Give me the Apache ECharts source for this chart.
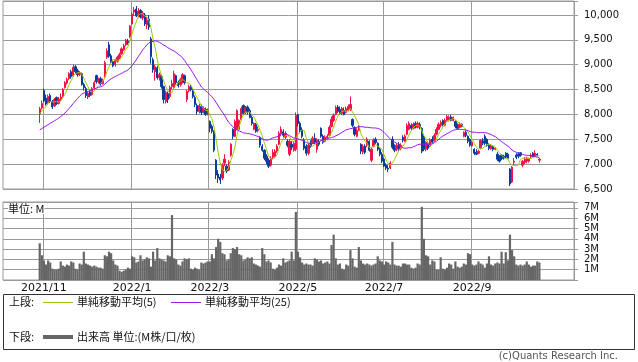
<!DOCTYPE html>
<html><head><meta charset="utf-8">
<script src="https://cdn.jsdelivr.net/npm/echarts/dist/echarts.min.js"></script>
<style>html,body{margin:0;padding:0;background:#fff}#c{width:638px;height:362px}</style>
</head><body><div id="c"></div><script>
// ---- data ----
const startDate = '2021-10-28';
const endDate = '2022-10-20';
const holidays = ['2021-11-03','2021-11-23','2021-12-31','2022-01-03','2022-01-10','2022-02-11','2022-02-23','2022-03-21','2022-04-29','2022-05-03','2022-05-04','2022-05-05','2022-07-18','2022-08-11','2022-09-19','2022-09-23','2022-10-10'];
const labelMonths = [11,1,3,5,7,9];
const padBefore = 17, padAfter = 16;
const priceTicks = [6500,7000,7500,8000,8500,9000,9500,10000];
const volTicks = [1,2,3,4,5,6,7];

// closes before the first visible day (only feed the moving averages)
const priorClose = [7580,7540,7620,7660,7590,7550,7610,7640,7600,7570,7630,7680,7620,7580,7560,7610,7650,7600,7620,7640,7950,8000,8020,7980];

const open = [
8010,8130,8480,8330,8230,8380,8260,8170,8340,8220,
8300,8360,8540,8630,8720,8860,8780,8960,8880,8800,
8820,8600,8520,8350,8450,8400,8530,8780,8660,8720,
8620,8760,9150,9400,9180,9060,9000,9070,9140,9220,
9300,9400,9470,9560,9820,10060,10120,9990,10090,9940,
10000,9800,9920,9520,9100,8860,8940,8740,8760,8560,
8260,8420,8360,8560,8540,8780,8640,8600,8640,8780,
8300,8480,8560,8480,8340,8180,8060,8160,8060,8100,
8010,7860,7760,7660,7080,6800,6740,6720,7020,6960,
6880,7180,7700,7560,7700,7700,7900,8180,8040,8150,
8080,7940,7700,7800,7680,7540,7360,7280,7160,7080,
6980,7140,7160,7260,7400,7620,7650,7540,7460,7200,
7400,7280,7300,8000,7820,7680,7480,7360,7220,7420,
7420,7520,7300,7460,7720,7560,7460,7520,7580,7760,
7880,8000,8150,8100,8020,8080,8040,8080,8100,7900,
7740,7560,7680,7400,7240,7360,7380,7460,7080,7360,
7500,7420,7300,7200,7100,6980,6920,6920,7500,7340,
7300,7400,7320,7540,7460,7600,7700,7780,7720,7820,
7740,7800,7720,7540,7300,7420,7360,7500,7460,7600,
7700,7780,7880,7780,7880,7900,7950,7880,7860,7780,
7740,7800,7560,7640,7560,7500,7370,7300,7240,7220,
7330,7470,7560,7500,7380,7310,7360,7300,7200,7120,
7180,7160,7220,7200,6900,6640,7040,7180,7200,7230,
6980,7040,7060,7060,7150,7220,7160,7200,7080];
const close = [
8110,8220,8270,8210,8360,8260,8150,8300,8220,8310,
8350,8500,8640,8700,8820,8760,8950,8860,8800,8840,
8600,8540,8380,8430,8380,8520,8640,8660,8700,8620,
8680,9040,9280,9170,9050,8980,9080,9150,9200,9320,
9380,9490,9440,9780,10020,10100,9980,10080,9960,10040,
9820,9900,9760,9160,8900,8960,8740,8800,8560,8300,
8440,8300,8540,8620,8820,8640,8580,8700,8800,8640,
8460,8560,8500,8360,8200,8060,8180,8040,8120,8000,
8080,7720,7660,7280,6780,6720,6680,6980,7100,6860,
7040,7400,7560,7860,8080,7880,8120,8020,8140,8050,
7940,7820,7820,7660,7700,7380,7280,7120,7060,6960,
7120,7240,7260,7360,7620,7700,7580,7620,7380,7460,
7340,7420,7980,7820,7680,7560,7320,7220,7380,7360,
7520,7440,7480,7400,7560,7440,7540,7560,7740,7900,
7980,8140,8060,8020,8120,8000,8120,8160,8200,7780,
7600,7680,7740,7260,7360,7240,7500,7280,7300,7480,
7440,7300,7200,7060,6960,6920,6900,7020,7340,7280,
7380,7300,7380,7480,7560,7780,7820,7720,7800,7760,
7820,7740,7260,7300,7440,7320,7480,7440,7580,7700,
7800,7840,7800,7880,7960,7940,7880,7940,7760,7720,
7800,7760,7640,7580,7460,7380,7440,7220,7200,7260,
7480,7420,7420,7380,7320,7380,7300,7320,7100,7060,
7110,7120,7140,7120,6600,6940,7060,7140,7160,7180,
7060,7100,7120,7100,7180,7160,7220,7180,7100];
const low = [
7830,8100,8240,8180,8200,8230,8110,8150,8190,8200,
8270,8340,8520,8600,8690,8720,8760,8820,8760,8770,
8580,8480,8330,8310,8350,8380,8500,8620,8620,8580,
8600,8740,9120,9140,9020,8950,8960,9040,9110,9200,
9280,9370,9400,9540,9800,9980,9960,9950,9930,9900,
9780,9720,9700,9020,8840,8680,8700,8680,8520,8220,
8220,8230,8320,8500,8520,8600,8540,8560,8620,8600,
8250,8440,8460,8320,8150,8000,8020,7990,8020,7970,
7980,7640,7620,7240,6700,6620,6600,6680,6960,6820,
6860,7150,7500,7540,7680,7680,7880,7990,8000,8000,
7920,7780,7680,7630,7640,7330,7250,7080,7000,6920,
6950,7100,7130,7230,7380,7560,7540,7500,7340,7160,
7280,7250,7260,7760,7620,7520,7280,7170,7180,7330,
7400,7400,7230,7360,7530,7410,7440,7480,7560,7740,
7850,7980,8030,7990,7990,7980,8020,8060,8070,7740,
7560,7540,7660,7200,7200,7200,7340,7250,7040,7340,
7400,7260,7160,7020,6940,6880,6840,6900,7300,7240,
7260,7260,7280,7440,7440,7580,7680,7680,7700,7720,
7720,7700,7220,7260,7260,7280,7340,7420,7440,7580,
7680,7740,7760,7760,7860,7860,7860,7860,7720,7700,
7720,7740,7540,7540,7420,7350,7350,7180,7180,7200,
7300,7380,7380,7350,7280,7290,7260,7280,7060,7030,
7080,7090,7120,7100,6560,6620,6980,7100,7120,7150,
6940,7000,7020,7030,7120,7140,7140,7160,7030];
const high = [
8150,8280,8520,8400,8400,8420,8290,8330,8360,8350,
8420,8530,8670,8740,8850,8900,9000,8990,8920,8870,
8840,8640,8560,8460,8500,8550,8680,8800,8740,8760,
8720,9080,9330,9460,9220,9100,9120,9180,9240,9350,
9420,9520,9520,9800,10060,10160,10180,10140,10120,10080,
10040,9960,10000,9560,9140,9000,8980,8840,8800,8580,
8480,8460,8580,8700,8880,8800,8680,8740,8830,8800,
8490,8600,8600,8520,8380,8220,8220,8200,8160,8140,
8120,7880,7800,7680,7100,6880,6800,7020,7200,7000,
7080,7420,7720,7900,8100,7900,8160,8200,8170,8180,
8120,7980,7840,7830,7760,7560,7400,7300,7200,7120,
7160,7300,7300,7400,7660,7760,7700,7660,7500,7500,
7460,7460,8040,8010,7860,7740,7520,7400,7420,7480,
7560,7620,7520,7500,7740,7600,7580,7600,7780,7960,
8020,8180,8190,8160,8150,8140,8160,8200,8360,7920,
7760,7720,7780,7420,7400,7400,7540,7480,7340,7520,
7540,7440,7330,7240,7130,7020,6980,7060,7560,7400,
7420,7440,7420,7580,7600,7820,7860,7820,7840,7860,
7860,7840,7740,7580,7460,7460,7520,7560,7620,7740,
7840,7880,7900,7920,7990,7980,7990,7960,7880,7820,
7840,7820,7660,7680,7580,7520,7460,7320,7300,7280,
7500,7520,7600,7520,7420,7400,7380,7340,7240,7180,
7200,7190,7240,7230,6920,6960,7120,7220,7240,7240,
7080,7140,7150,7130,7220,7240,7280,7220,7120];
// volume, millions
const volume = [
3.56,2.4,1.9,1.5,1.9,1.7,1.1,1.0,1.0,1.1,
1.8,1.4,1.3,1.5,1.4,1.8,1.7,1.1,1.0,1.6,
1.5,2.75,1.6,1.5,1.4,1.3,1.4,1.3,1.2,1.2,
1.1,2.4,2.3,2.75,2.6,1.9,1.5,1.4,0.9,0.8,
0.9,1.0,1.2,1.1,2.3,2.2,1.7,1.8,2.4,1.9,
2.0,2.2,2.1,1.3,2.75,1.9,3.1,2.1,2.0,1.9,
1.8,2.4,2.3,6.3,2.1,2.0,1.5,1.4,1.8,2.1,
2.0,2.1,1.1,1.0,1.2,1.1,1.0,1.7,1.6,1.7,
1.8,1.8,2.5,2.1,3.2,4.0,3.7,2.6,2.5,1.9,
2.0,2.6,3.1,3.0,3.2,2.5,2.4,1.9,2.0,2.2,
2.1,2.2,1.6,1.5,1.4,1.3,3.1,2.5,1.8,1.9,
1.7,1.1,1.0,1.2,1.5,1.4,2.1,1.7,1.8,1.9,
2.75,1.9,6.6,2.75,2.2,1.7,1.5,1.6,1.5,1.5,
1.4,2.1,2.0,1.8,1.9,1.6,1.7,1.8,1.6,3.4,
4.4,2.1,1.5,1.6,1.1,1.0,1.5,1.4,2.9,2.1,
1.3,1.2,3.2,1.9,1.6,1.5,1.6,1.5,1.4,1.5,
1.6,2.3,1.9,1.8,1.5,1.8,1.7,1.5,3.7,1.5,
1.4,1.4,1.3,1.6,1.6,1.5,1.5,1.2,1.1,1.2,
1.6,1.5,7.1,4.0,2.4,2.3,1.5,1.9,1.8,1.0,
1.0,2.2,1.1,1.0,1.2,1.6,1.5,1.1,1.8,1.3,
1.2,1.3,1.6,1.5,2.6,2.5,1.5,1.4,1.5,1.8,
1.6,1.5,1.2,1.6,2.3,1.5,1.4,1.6,1.7,1.6,
2.75,1.6,2.7,1.9,4.4,2.9,2.3,1.5,1.4,1.5,
1.4,1.5,1.8,1.5,1.3,1.4,1.4,1.8,1.7];

// ---- trading-day calendar ----
function tradingDays(s, e, hol) {
  const out = [], hs = new Set(hol);
  let d = new Date(s + 'T00:00:00Z');
  const end = new Date(e + 'T00:00:00Z');
  while (d <= end) {
    const wd = d.getUTCDay();
    const iso = d.toISOString().slice(0, 10);
    if (wd !== 0 && wd !== 6 && !hs.has(iso)) out.push(iso);
    d = new Date(d.getTime() + 86400000);
  }
  return out;
}
const dates = tradingDays(startDate, endDate, holidays);
const n = dates.length;
const cats = [];
for (let i = 0; i < padBefore; i++) cats.push('pre' + i);
dates.forEach(d => cats.push(d));
for (let i = 0; i < padAfter; i++) cats.push('post' + i);

const labelIdx = new Set();
let prevMonth = null;
cats.forEach((c, i) => {
  if (c.length !== 10) return;
  const m = +c.slice(5, 7);
  if (m !== prevMonth && labelMonths.includes(m)) labelIdx.add(i);
  prevMonth = m;
});

function pad(arr) {
  const a = [];
  for (let i = 0; i < padBefore; i++) a.push('-');
  arr.forEach(v => a.push(v));
  for (let i = 0; i < padAfter; i++) a.push('-');
  return a;
}
const candle = [];
for (let i = 0; i < n; i++) candle.push([open[i], close[i], low[i], high[i]]);
const all = priorClose.concat(close);
function ma(p) {
  const r = [];
  for (let i = 0; i < n; i++) {
    const k = i + priorClose.length;
    let s = 0;
    for (let j = k - p + 1; j <= k; j++) s += all[j];
    r.push(Math.round(s / p * 10) / 10);
  }
  return r;
}
const ma5 = ma(5), ma25 = ma(25);

const UP = '#f2124a', DOWN = '#0b3b9c', MA5C = '#99cc00', MA25C = '#9b14f0', GRID = '#9a9a9a';
const FONT = 'DejaVu Sans';
const JP = '"Noto Sans CJK JP"';

const chart = echarts.init(document.getElementById('c'), null, {renderer: 'canvas'});
chart.setOption({
  animation: false,
  backgroundColor: '#fff',
  textStyle: {fontFamily: FONT},
  grid: [
    {left: 3, top: 1, width: 571, height: 188, show: true, borderColor: GRID, borderWidth: 1},
    {left: 3, top: 202, width: 571, height: 78, show: true, borderColor: GRID, borderWidth: 1}
  ],
  xAxis: [
    {type: 'category', gridIndex: 0, data: cats, boundaryGap: true,
     axisLine: {show: false}, axisTick: {show: false}, axisLabel: {show: false},
     splitLine: {show: true, interval: (i) => labelIdx.has(i), lineStyle: {color: GRID, width: 1}}},
    {type: 'category', gridIndex: 1, data: cats, boundaryGap: true,
     axisLine: {show: false}, axisTick: {show: false},
     axisLabel: {show: true, interval: (i) => labelIdx.has(i), fontSize: 11, color: '#111', margin: 3, fontFamily: FONT,
       formatter: (v) => v.length === 10 ? v.slice(0, 4) + '/' + (+v.slice(5, 7)) : ''},
     splitLine: {show: true, interval: (i) => labelIdx.has(i), lineStyle: {color: GRID, width: 1}}}
  ],
  yAxis: [
    {type: 'value', gridIndex: 0, position: 'right', min: 6500, max: 10282, interval: 500,
     axisLine: {show: false}, axisTick: {show: true, length: 4, lineStyle: {color: GRID}},
     axisLabel: {fontSize: 10, color: '#111', margin: 10, fontFamily: FONT,
       formatter: (v) => priceTicks.includes(v) ? v.toLocaleString('en-US') : ''},
     splitLine: {show: true, lineStyle: {color: GRID, width: 1}}},
    {type: 'value', gridIndex: 1, position: 'right', min: 0, max: 7.57, interval: 1,
     axisLine: {show: false}, axisTick: {show: true, length: 4, lineStyle: {color: GRID}},
     axisLabel: {fontSize: 10, color: '#111', margin: 10, fontFamily: FONT,
       formatter: (v) => volTicks.includes(v) ? v + 'M' : ''},
     splitLine: {show: true, lineStyle: {color: GRID, width: 1}}}
  ],
  series: [
    {type: 'candlestick', xAxisIndex: 0, yAxisIndex: 0, data: pad(candle), barWidth: 1.8,
     itemStyle: {color: UP, color0: DOWN, borderColor: UP, borderColor0: DOWN, borderWidth: 1}},
    {type: 'line', xAxisIndex: 0, yAxisIndex: 0, data: pad(ma5), showSymbol: false, symbol: 'none',
     lineStyle: {color: MA5C, width: 1}, z: 5},
    {type: 'line', xAxisIndex: 0, yAxisIndex: 0, data: pad(ma25), showSymbol: false, symbol: 'none',
     lineStyle: {color: MA25C, width: 1}, z: 5},
    {type: 'bar', xAxisIndex: 1, yAxisIndex: 1, data: pad(volume), barWidth: 2.2,
     itemStyle: {color: '#666666'}}
  ],
  graphic: [
    {type: 'text', left: 8, top: 203, z: 10, style: {text: '単位: M', fontSize: 11, fontFamily: JP, fill: '#111', backgroundColor: '#fff'}},
    {type: 'rect', shape: {x: 3.5, y: 294.5, width: 631, height: 55}, style: {fill: 'none', stroke: '#333', lineWidth: 1}},
    {type: 'text', x: 9, y: 302, style: {text: '上段:', fontSize: 11, fontFamily: JP, fill: '#111', verticalAlign: 'middle'}},
    {type: 'line', shape: {x1: 43, y1: 302.5, x2: 73, y2: 302.5}, style: {stroke: MA5C, lineWidth: 1}},
    {type: 'text', x: 77, y: 302, style: {text: '単純移動平均(5)', fontSize: 11, fontFamily: JP, fill: '#111', verticalAlign: 'middle'}},
    {type: 'line', shape: {x1: 171, y1: 302.5, x2: 201, y2: 302.5}, style: {stroke: MA25C, lineWidth: 1}},
    {type: 'text', x: 205, y: 302, style: {text: '単純移動平均(25)', fontSize: 11, fontFamily: JP, fill: '#111', verticalAlign: 'middle'}},
    {type: 'text', x: 9, y: 337, style: {text: '下段:', fontSize: 11, fontFamily: JP, fill: '#111', verticalAlign: 'middle'}},
    {type: 'line', shape: {x1: 43, y1: 337, x2: 73, y2: 337}, style: {stroke: '#666', lineWidth: 4}},
    {type: 'text', x: 77, y: 337, style: {text: '出来高 単位:(M株/口/枚)', fontSize: 11, fontFamily: JP, fill: '#111', verticalAlign: 'middle'}},
    {type: 'text', x: 618, y: 356, style: {text: '(c)Quants Research Inc.', fontSize: 10, fontFamily: FONT, fill: '#555', align: 'right', verticalAlign: 'middle'}}
  ]
});
</script></body></html>
